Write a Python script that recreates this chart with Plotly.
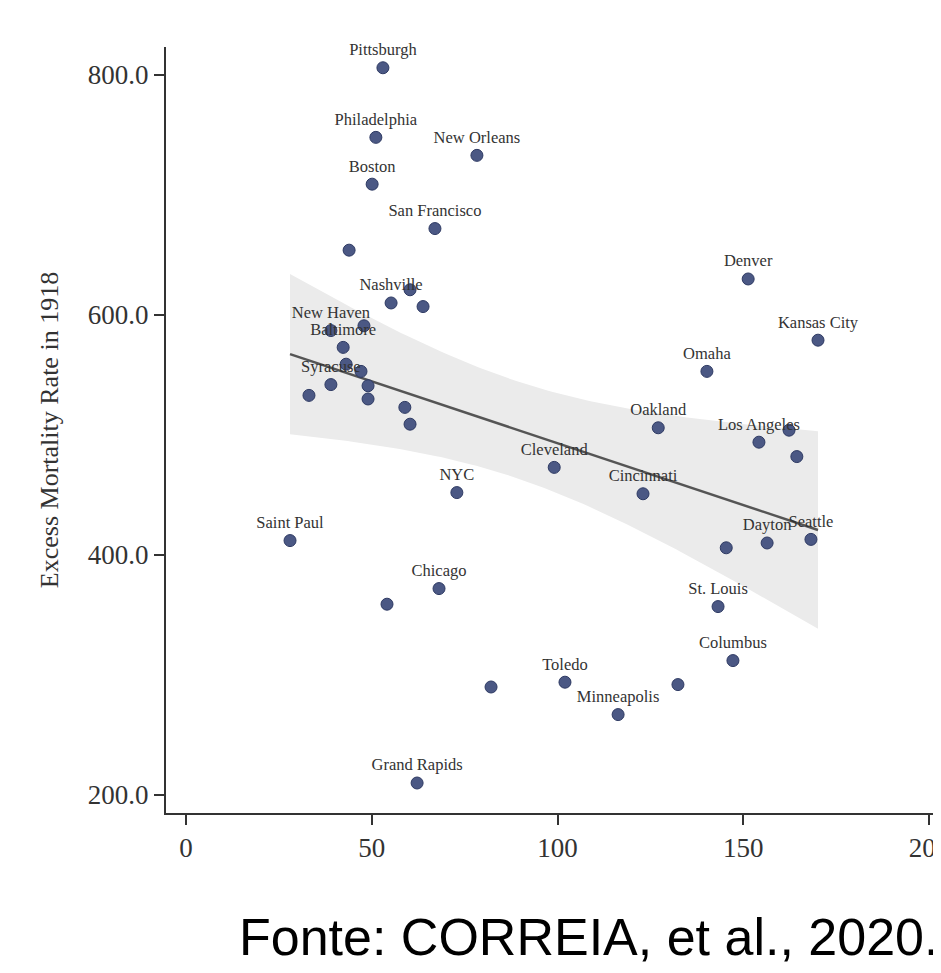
import numpy as np
import plotly.graph_objects as go

# ---- data ----
cities = ["Pittsburgh", "Philadelphia", "New Orleans", "Boston", "San Francisco", "",
          "Nashville", "", "", "Denver", "Kansas City", "New Haven", "", "Baltimore",
          "", "", "Syracuse", "", "", "", "", "", "Omaha", "Oakland", "Los Angeles",
          "", "", "Cleveland", "Cincinnati", "NYC", "Saint Paul", "", "Dayton",
          "Seattle", "Chicago", "", "St. Louis", "Columbus", "Toledo", "", "",
          "Minneapolis", "Grand Rapids"]
x_vals = [53.0, 51.1, 78.3, 50.1, 67.0, 43.9,
          55.2, 60.3, 63.8, 151.3, 170.1, 39.0, 47.9, 42.3,
          43.1, 47.1, 39.0, 33.1, 49.0, 49.0, 58.9, 60.3, 140.2, 127.1, 154.2,
          162.3, 164.4, 99.1, 123.0, 72.9, 28.0, 145.4, 156.4,
          168.2, 68.1, 54.1, 143.2, 147.2, 102.0, 82.1, 132.4,
          116.3, 62.2]
y_vals = [806, 748, 733, 709, 672, 654,
          610, 621, 607, 630, 579, 587, 591, 573,
          559, 553, 542, 533, 541, 530, 523, 509, 553, 506, 494,
          504, 482, 473, 451, 452, 412, 406, 410,
          413, 372, 359, 357, 312, 294, 290, 292,
          267, 210]
y_ticks = [200, 400, 600, 800]
x_ticks = [0, 50, 100, 150, 200]
y_title = "Excess Mortality Rate in 1918"
source_note = "Fonte: CORREIA, et al., 2020."

# ---- linear fit with 95% CI (as in Stata lfitci) ----
x = np.array(x_vals, dtype=float)
y = np.array(y_vals, dtype=float)
n = len(x)
b1, b0 = np.polyfit(x, y, 1)
resid = y - (b0 + b1 * x)
s = np.sqrt(np.sum(resid ** 2) / (n - 2))
sxx = np.sum((x - x.mean()) ** 2)
t_crit = 2.0195
xg = np.linspace(x.min(), x.max(), 120)
yg = b0 + b1 * xg
se = s * np.sqrt(1.0 / n + (xg - x.mean()) ** 2 / sxx)
lo = yg - t_crit * se
hi = yg + t_crit * se

fig = go.Figure()
fig.add_trace(go.Scatter(x=np.concatenate([xg, xg[::-1]]), y=np.concatenate([hi, lo[::-1]]),
                         fill="toself", fillcolor="#ebebeb", line=dict(width=0),
                         mode="lines", hoverinfo="skip", showlegend=False))
fig.add_trace(go.Scatter(x=xg, y=yg, mode="lines", line=dict(color="#555555", width=2.5),
                         showlegend=False))
fig.add_trace(go.Scatter(x=x_vals, y=y_vals, mode="markers+text", text=cities,
                         textposition="top center", cliponaxis=False,
                         textfont=dict(family="Liberation Serif", size=16.5, color="#333333"),
                         marker=dict(size=12, color="#4b5884",
                                     line=dict(color="#2e3a63", width=1)),
                         showlegend=False))

fig.update_layout(
    width=933, height=957,
    margin=dict(l=158, r=0, t=39, b=152, autoexpand=False),
    paper_bgcolor="white", plot_bgcolor="white",
    font=dict(family="Liberation Serif", color="#333333"),
    annotations=[dict(text=source_note, xref="paper", yref="paper",
                      x=(237 - 166) / 775, y=-0.162, xanchor="left", yanchor="middle",
                      showarrow=False,
                      font=dict(family="Liberation Sans", size=52, color="black"))],
)
fig.update_xaxes(range=[-5.38, 203.2], tickvals=x_ticks, showgrid=False, zeroline=False,
                 showline=True, linecolor="#333333", linewidth=2, automargin=False,
                 ticks="outside", ticklen=10, tickwidth=2, tickcolor="#333333",
                 ticklabeloverflow="allow",
                 tickfont=dict(family="Liberation Serif", size=27, color="#333333"))
fig.update_yaxes(range=[185, 823.3], tickvals=y_ticks, tickformat=".1f", showgrid=False,
                 zeroline=False, showline=True, linecolor="#333333", linewidth=2,
                 automargin=False,
                 ticks="outside", ticklen=10, tickwidth=2, tickcolor="#333333",
                 tickfont=dict(family="Liberation Serif", size=27, color="#333333"),
                 title=dict(text=y_title, standoff=22,
                            font=dict(family="Liberation Serif", size=26, color="#333333")))

fig.write_html("out.html")
